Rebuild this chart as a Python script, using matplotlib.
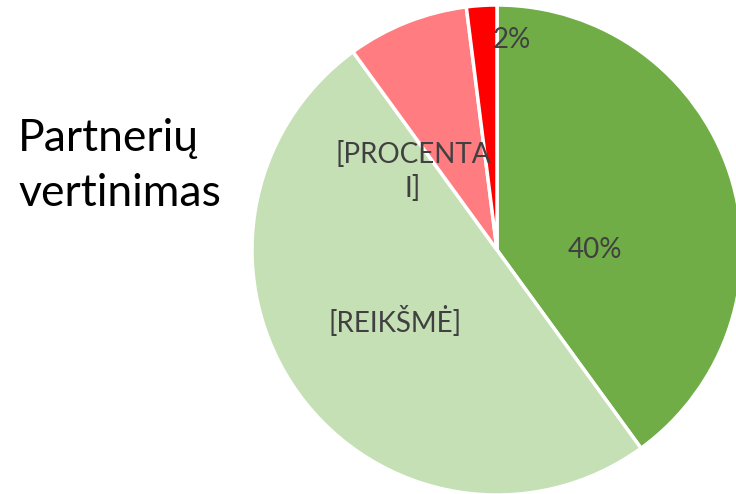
import matplotlib.pyplot as plt
import numpy as np

title = "Partnerių\nvertinimas"
categories = ["A", "B", "C", "D"]
values = [40, 50, 8, 2]
labels = ["40%", "[REIKŠMĖ]", "[PROCENTA\nI]", "2%"]
colors = ["#70AD47", "#C5E0B4", "#FF7C80", "#FF0000"]
# label placement (radius fraction, angle in degrees)
label_pos = [(0.40, 0), (0.51, 215), (0.47, 137), (0.86, 86)]

plt.rcParams['font.family'] = ['Lato', 'DejaVu Sans']

fig = plt.figure(figsize=(7.36, 4.94), dpi=100)
ax = fig.add_axes([252 / 736, -1 / 494, 490 / 736, 490 / 494])
ax.pie(values, colors=colors, startangle=90, counterclock=False, radius=1,
       wedgeprops=dict(edgecolor="white", linewidth=2.5))
ax.set_xlim(-1, 1)
ax.set_ylim(-1, 1)
ax.set_aspect("equal")
ax.axis("off")

for lab, (r, a) in zip(labels, label_pos):
    t = np.deg2rad(a)
    ax.text(r * np.cos(t), r * np.sin(t), lab, ha="center", va="center",
            fontsize=20, color="#404040", linespacing=1.3)

fig.text(18 / 736, 1 - 166 / 494, title, ha="left", va="center",
         fontsize=32, color="black", linespacing=1.45)

fig.savefig("out.png", dpi=100)
